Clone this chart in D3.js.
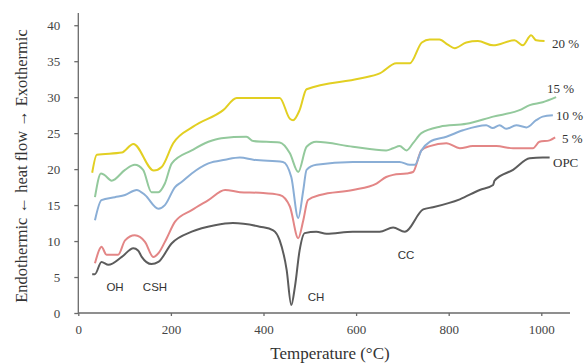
<!DOCTYPE html>
<html>
<head>
  <meta charset="utf-8">
  <title>DTA curves</title>
  <script src="https://d3js.org/d3.v7.min.js"></script>
  <style>
    body { margin: 0; background: #fff; }
  </style>
</head>
<body>
<div id="chart"></div>
<script type="text/javascript">
  let w = 584;
  let h = 363;

  // [temperature °C, heat flow]
  let opc = [[30,5.4],[36,5.4],[50,7.1],[65,6.7],[94,7.8],[119,9.0],[129,8.7],[137,7.8],[158,6.8],[173,7.1],
    [202,9.7],[245,11.3],[295,12.2],[334,12.5],[392,12.0],[421,11.5],[435,10.1],[450,6.0],[460,1.1],
    [468,3.7],[478,8.7],[489,11.1],[514,11.3],[536,11.0],[593,11.3],[651,11.3],[680,11.9],[705,11.3],
    [745,14.4],[766,14.7],[824,15.8],[867,17.1],[896,17.8],[899,18.4],[939,19.9],[975,21.5],[1003,21.6],[1018,21.6]];
  let pct5 = [[36,6.9],[47,9.0],[50,9.2],[61,8.1],[86,8.1],[101,10.1],[122,10.8],[144,9.9],[162,7.8],[173,8.3],
    [191,10.4],[209,12.7],[245,14.3],[281,15.7],[317,17.1],[349,16.8],[392,16.7],[435,16.4],[457,14.8],
    [475,10.4],[486,12.9],[496,15.7],[522,16.4],[593,17.1],[644,18.0],[665,18.9],[680,19.2],[709,19.4],
    [723,19.6],[741,22.6],[759,23.2],[795,23.6],[824,22.9],[852,23.2],[903,23.2],[939,22.9],[982,22.9],
    [996,23.8],[1018,24.0],[1030,24.4]];
  let pct10 = [[36,12.9],[50,15.7],[79,16.1],[101,16.4],[126,17.1],[144,16.4],[173,14.5],[187,15.0],[209,17.5],
    [223,18.2],[245,19.4],[281,20.8],[317,21.3],[349,21.6],[378,21.3],[442,21.0],[460,18.9],[475,13.2],
    [486,17.1],[493,19.9],[514,20.6],[593,21.0],[665,21.0],[694,21.0],[716,20.6],[727,20.6],[741,22.6],
    [759,23.8],[795,24.5],[831,25.4],[881,26.1],[895,25.7],[910,26.1],[924,25.6],[946,26.1],[968,25.8],
    [989,26.8],[1003,27.3],[1025,27.5]];
  let pct15 = [[36,16.1],[49,19.4],[56,19.2],[72,18.4],[101,19.9],[122,20.6],[140,19.9],[158,16.8],[173,16.8],
    [187,18.0],[202,20.8],[245,22.6],[281,23.8],[309,24.3],[363,24.5],[378,23.9],[435,23.7],[457,22.2],
    [475,19.6],[493,23.1],[514,23.8],[593,23.1],[665,22.6],[680,22.9],[694,23.2],[709,22.6],[723,23.6],
    [741,25.0],[781,25.9],[838,26.3],[896,27.3],[953,28.2],[975,28.9],[1003,29.3],[1032,30.0]];
  let pct20 = [[30,19.5],[40,22.0],[94,22.3],[119,23.5],[163,19.8],[180,20.3],[205,23.6],[248,25.9],[313,28.2],
    [342,29.9],[435,29.9],[457,27.0],[464,26.8],[478,28.2],[493,31.1],[608,32.6],[651,33.3],[687,34.7],
    [716,34.7],[742,37.6],[759,38.0],[780,38.0],[798,37.3],[813,36.8],[838,37.6],[863,37.8],[896,37.2],
    [942,37.9],[960,37.2],[978,38.6],[989,37.9],[1007,37.8]];

  let xTicks = [0, 200, 400, 600, 800, 1000];
  let yTicks = [0, 5, 10, 15, 20, 25, 30, 35, 40];

  let series = [
    {name: 'OPC',  data: opc,   color: '#5c5c5c', lx: 553, ly: 162},
    {name: '5 %',  data: pct5,  color: '#e38686', lx: 562, ly: 138},
    {name: '10 %', data: pct10, color: '#8aaed6', lx: 556, ly: 115},
    {name: '15 %', data: pct15, color: '#93c99c', lx: 547, ly: 88},
    {name: '20 %', data: pct20, color: '#e2cf22', lx: 552, ly: 43}
  ];

  let peaks = [
    {name: 'OH',  x: 115, y: 291},
    {name: 'CSH', x: 155, y: 291},
    {name: 'CH',  x: 316, y: 301},
    {name: 'CC',  x: 406, y: 259}
  ];

  let xScale = d3.scaleLinear().domain([0, 1062]).range([78.3, 570]);
  let yScale = d3.scaleLinear().domain([0, 41.7]).range([313, 13]);

  let svg = d3.select('#chart')
              .append('svg')
              .attr('width', w)
              .attr('height', h);

  // eixos
  let xAxis = svg.append('g')
     .attr('transform', 'translate(0,313)')
     .call(d3.axisBottom(xScale).tickValues(xTicks).tickFormat(d3.format('d')).tickSize(3).tickPadding(9));
  let yAxis = svg.append('g')
     .attr('transform', 'translate(78.3,0)')
     .call(d3.axisLeft(yScale).tickValues(yTicks).tickFormat(d3.format('d')).tickSize(4).tickPadding(14));

  [xAxis, yAxis].forEach(g => {
    g.selectAll('path, line').attr('stroke', '#6a6a6a').attr('stroke-width', 1.3);
    g.selectAll('text')
     .attr('font-family', 'Liberation Serif, serif')
     .attr('font-size', '13px')
     .attr('fill', '#444');
  });
  xAxis.select('.domain').attr('d', 'M78.3,0H570');
  yAxis.select('.domain').attr('d', 'M0,313V13');

  // curvas
  let line = d3.line()
               .x(([t, v]) => xScale(t))
               .y(([t, v]) => yScale(v))
               .curve(d3.curveMonotoneX);

  svg.selectAll('path.curve')
     .data(series)
     .enter()
     .append('path')
     .attr('class', 'curve')
     .attr('d', d => line(d.data))
     .attr('fill', 'none')
     .attr('stroke', d => d.color)
     .attr('stroke-width', 2)
     .attr('stroke-linejoin', 'round');

  svg.selectAll('text.serie')
     .data(series)
     .enter()
     .append('text')
     .attr('class', 'serie')
     .attr('x', d => d.lx)
     .attr('y', d => d.ly)
     .attr('dy', '0.35em')
     .attr('font-family', 'Liberation Serif, serif')
     .attr('font-size', '13px')
     .attr('fill', '#333')
     .text(d => d.name);

  svg.selectAll('text.peak')
     .data(peaks)
     .enter()
     .append('text')
     .attr('class', 'peak')
     .attr('x', d => d.x)
     .attr('y', d => d.y)
     .attr('text-anchor', 'middle')
     .attr('font-family', 'Liberation Sans, sans-serif')
     .attr('font-size', '11.5px')
     .attr('fill', '#333')
     .text(d => d.name);

  // titulos
  svg.append('text')
     .attr('x', 330)
     .attr('y', 359)
     .attr('text-anchor', 'middle')
     .attr('font-family', 'Liberation Serif, serif')
     .attr('font-size', '17px')
     .attr('fill', '#333')
     .text('Temperature (°C)');

  svg.append('text')
     .attr('transform', 'translate(21,166) rotate(-90)')
     .attr('text-anchor', 'middle')
     .attr('dy', '0.35em')
     .attr('font-family', 'Liberation Serif, serif')
     .attr('font-size', '16.5px')
     .attr('fill', '#333')
     .text('Endothermic ← heat flow → Exothermic');
</script>
</body>
</html>
